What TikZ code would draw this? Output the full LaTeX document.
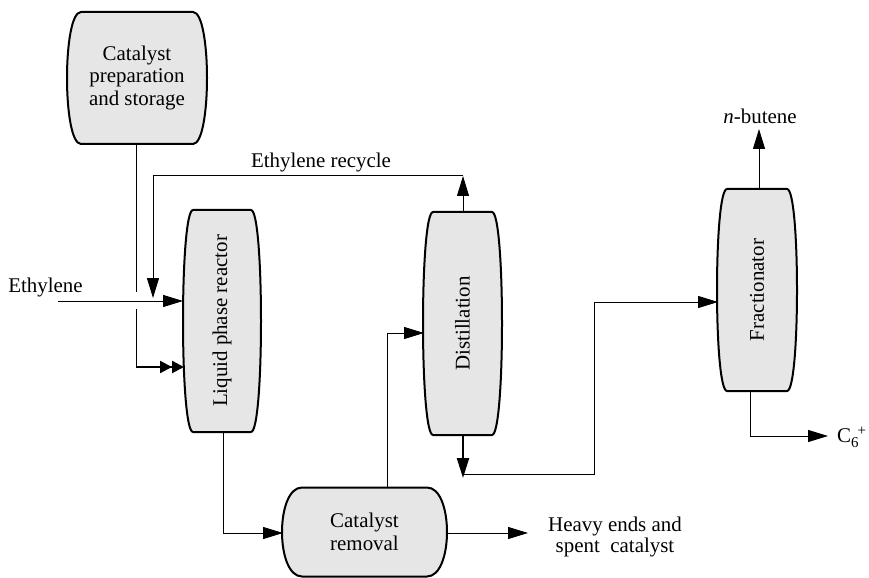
\documentclass[tikz,border=0pt]{standalone}
\usepackage{fontspec}
\setmainfont{Liberation Serif}
\usetikzlibrary{arrows.meta}
\definecolor{vfill}{RGB}{230,230,230}
\tikzset{
  vessel/.style={draw=black, line width=2bp, fill=vfill, line join=round},
  vtext/.style={inner sep=0pt, align=center, font=\fontsize{21}{22.5}\selectfont},
  lbl/.style={inner sep=0pt, align=center, font=\fontsize{21}{22}\selectfont},
  flow/.style={draw=black, line width=1bp},
  heavyflow/.style={draw=black, line width=2.2bp},
  >={Triangle[length=20bp,width=12bp]},
  dbltip/.style={-{Triangle[length=12bp,width=12bp]Triangle[length=12bp,width=12bp]}},
}
% cx cy halfwidth halfheight bulge
\newcommand{\vesselshape}[5]{%
  \draw[vessel] ({#1-#3+#5},{#2-#4}) -- ({#1+#3-#5},{#2-#4})
    .. controls ({#1+#3+#5/3},{#2-#4}) and ({#1+#3+#5/3},{#2+#4}) .. ({#1+#3-#5},{#2+#4})
    -- ({#1-#3+#5},{#2+#4})
    .. controls ({#1-#3-#5/3},{#2+#4}) and ({#1-#3-#5/3},{#2-#4}) .. cycle;}
\begin{document}
\begin{tikzpicture}[x=1bp, y=-1bp]
\useasboundingbox (0,0) rectangle (869,578);

% vessels
\vesselshape{137}{78}{70}{66}{14}
\node[vtext, minimum width=140bp, minimum height=132bp] (prep) at (137,78) {Catalyst\\preparation\\and storage};

\vesselshape{222}{321}{39}{111}{10}
\node[vtext, minimum width=78bp, minimum height=222bp] (reactor) at (222,321) {\rotatebox{90}{Liquid phase reactor}};

\vesselshape{462.5}{323.5}{39.5}{111.5}{10}
\node[vtext, minimum width=79bp, minimum height=223bp] (dist) at (462.5,323.5) {\rotatebox{90}{Distillation}};

\vesselshape{757}{290}{40}{101}{10}
\node[vtext, minimum width=80bp, minimum height=202bp] (fract) at (757,290) {\rotatebox{90}{Fractionator}};

\vesselshape{364.5}{532}{82.5}{44.5}{20}
\node[vtext, minimum width=165bp, minimum height=89bp] (remove) at (364.5,532) {Catalyst\\removal};

% labels
\node[lbl, anchor=base] (lblEth) at (45.5,292) {Ethylene};
\node[lbl, anchor=base] (lblRec) at (321,168) {Ethylene recycle};
\node[lbl] (lblBut) at (760,116) {\textit{n}-butene};
\node[lbl, anchor=west] (lblC6) at (837,437) {C\raisebox{-5bp}{\fontsize{15}{15}\selectfont 6}\kern-1bp\raisebox{7bp}{\fontsize{15}{15}\selectfont +}};
\node[lbl] (lblHeavy) at (615,537) {Heavy ends and\\spent\ \ catalyst};

% coordinates
\coordinate (prepOut) at (136,144);
\coordinate (gapA) at (136,292);
\coordinate (gapB) at (136,309);
\coordinate (cornerA) at (136,367);
\coordinate (ethIn) at (58,301);
\coordinate (recR) at (463,176);
\coordinate (recL) at (153,176);
\coordinate (recEnd) at (153,298);
\coordinate (distTop) at (463,212);
\coordinate (distBot) at (463,435);
\coordinate (distTip) at (463,478);
\coordinate (botA) at (463,474);
\coordinate (botB) at (594,474);
\coordinate (botC) at (594,302);
\coordinate (remTop) at (387,488);
\coordinate (remUp) at (387,333);
\coordinate (reacBot) at (223,432);
\coordinate (reacDown) at (223,533);
\coordinate (remOut) at (447,533);
\coordinate (heavyTip) at (528,533);
\coordinate (fractTop) at (759,189);
\coordinate (butTip) at (759,129);
\coordinate (fractBot) at (750,391);
\coordinate (c6corner) at (750,436);
\coordinate (c6tip) at (828,436);

% connectors
\draw[flow] (prepOut) -- (gapA);
\draw[flow] (gapB) -- (cornerA);
\draw[heavyflow, dbltip] (cornerA) -- (184,367);
\draw[flow, ->] (ethIn) -- (183,301);
\draw[flow, ->] (distTop) -- (recR);
\draw[flow, ->] (recR) -- (recL) -- (recEnd);
\draw[flow] (reacBot) -- (reacDown);
\draw[flow, ->] (reacDown) -- (283,533);
\draw[flow] (remTop) -- (remUp);
\draw[flow, ->] (remUp) -- (424,333);
\draw[flow, ->] (remOut) -- (heavyTip);
\draw[heavyflow, ->] (distBot) -- (distTip);
\draw[flow] (botA) -- (botB) -- (botC);
\draw[flow, ->] (botC) -- (718,302);
\draw[flow, ->] (fractTop) -- (butTip);
\draw[flow] (fractBot) -- (c6corner);
\draw[flow, ->] (c6corner) -- (c6tip);
\end{tikzpicture}
\end{document}
